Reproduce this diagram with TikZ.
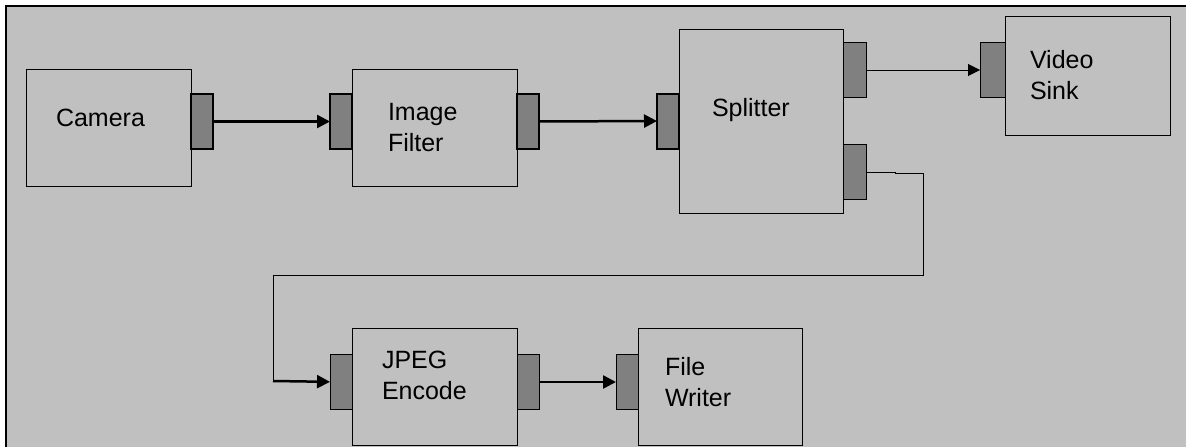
\documentclass[tikz,border=0pt]{standalone}
\usepackage{fontspec}
\setmainfont{Liberation Sans}
\usetikzlibrary{positioning,arrows.meta}
\definecolor{panel}{HTML}{C0C0C0}
\definecolor{portgray}{HTML}{808080}

\begin{document}
\begin{tikzpicture}[
  x=1pt, y=-1pt,
  block/.style={draw, fill=panel, line width=1pt, inner sep=0pt, outer sep=0pt, minimum width=165pt, minimum height=117pt},
  port/.style={draw, fill=portgray, line width=1pt, inner sep=0pt, outer sep=0pt, minimum width=22pt, minimum height=55pt},
  heavyport/.style={port, line width=2pt},
  txt/.style={inner sep=0pt, outer sep=0pt, align=left, font=\fontsize{25}{31}\selectfont},
  wire/.style={line width=2.5pt, -{Triangle[length=13pt,width=13pt]}},
  thinwire/.style={line width=1pt},
  thinarrow/.style={line width=1pt, -{Triangle[length=12pt,width=12pt]}}
]
\useasboundingbox (0,0) rectangle (1186,447);
\fill[panel] (5,5) rectangle (1186,447);
\draw[line width=2pt] (6,447) -- (6,6) -- (1186,6);

% blocks
\node[block] (cam) at (108.5,127.5) {};
\node[block, right=161pt of cam] (filt) {};
\node[block, minimum width=164pt, minimum height=184pt] (split) at (761,121) {};
\node[block, minimum height=119pt] (video) at (1087.5,75.5) {};
\node[block] (jpeg) at (434.5,386.5) {};
\node[block, minimum width=164pt, right=121pt of jpeg] (file) {};

% labels
\node[txt, right=30pt of cam.west, yshift=10pt] (camtxt) {Camera};
\node[txt, right=36pt of filt.west] (filttxt) {Image\\Filter};
\node[txt, right=33pt of split.west, yshift=11pt] (splittxt) {Splitter};
\node[txt, right=25pt of video.west] (videotxt) {Video\\Sink};
\node[txt, right=30pt of jpeg.west, yshift=11pt] (jpegtxt) {JPEG\\Encode};
\node[txt, right=27pt of file.west, yshift=4.5pt] (filetxt) {File\\Writer};

% ports
\node[heavyport, right=0pt of cam, yshift=6pt] (camout) {};
\node[heavyport, left=0pt of filt, yshift=6pt] (filtin) {};
\node[heavyport, right=0pt of filt, yshift=6pt] (filtout) {};
\node[heavyport, left=0pt of split] (splin) {};
\node[port, minimum width=23pt, right=0pt of split, yshift=51pt] (splout1) {};
\node[port, minimum width=23pt, right=0pt of split, yshift=-51pt] (splout2) {};
\node[port, minimum width=25pt, left=0pt of video, yshift=5.5pt] (vidin) {};
\node[port, left=0pt of jpeg, yshift=4.5pt] (jpegin) {};
\node[port, right=0pt of jpeg, yshift=4.5pt] (jpegout) {};
\node[port, left=0pt of file, yshift=4.5pt] (filein) {};

% connections
\draw[wire] (camout) -- (filtin);
\draw[wire] (filtout) -- (splin);
\draw[thinarrow] (splout1) -- (vidin);
\coordinate (bend) at (273,381);
\draw[thinwire] (splout2.east) -- (895,172) -- (895,173) -- (923,173) -- (923,275) -- (273,275) -- (bend);
\draw[wire] (bend) -- (jpegin);
\draw[wire] (jpegout) -- (filein);
\end{tikzpicture}
\end{document}
